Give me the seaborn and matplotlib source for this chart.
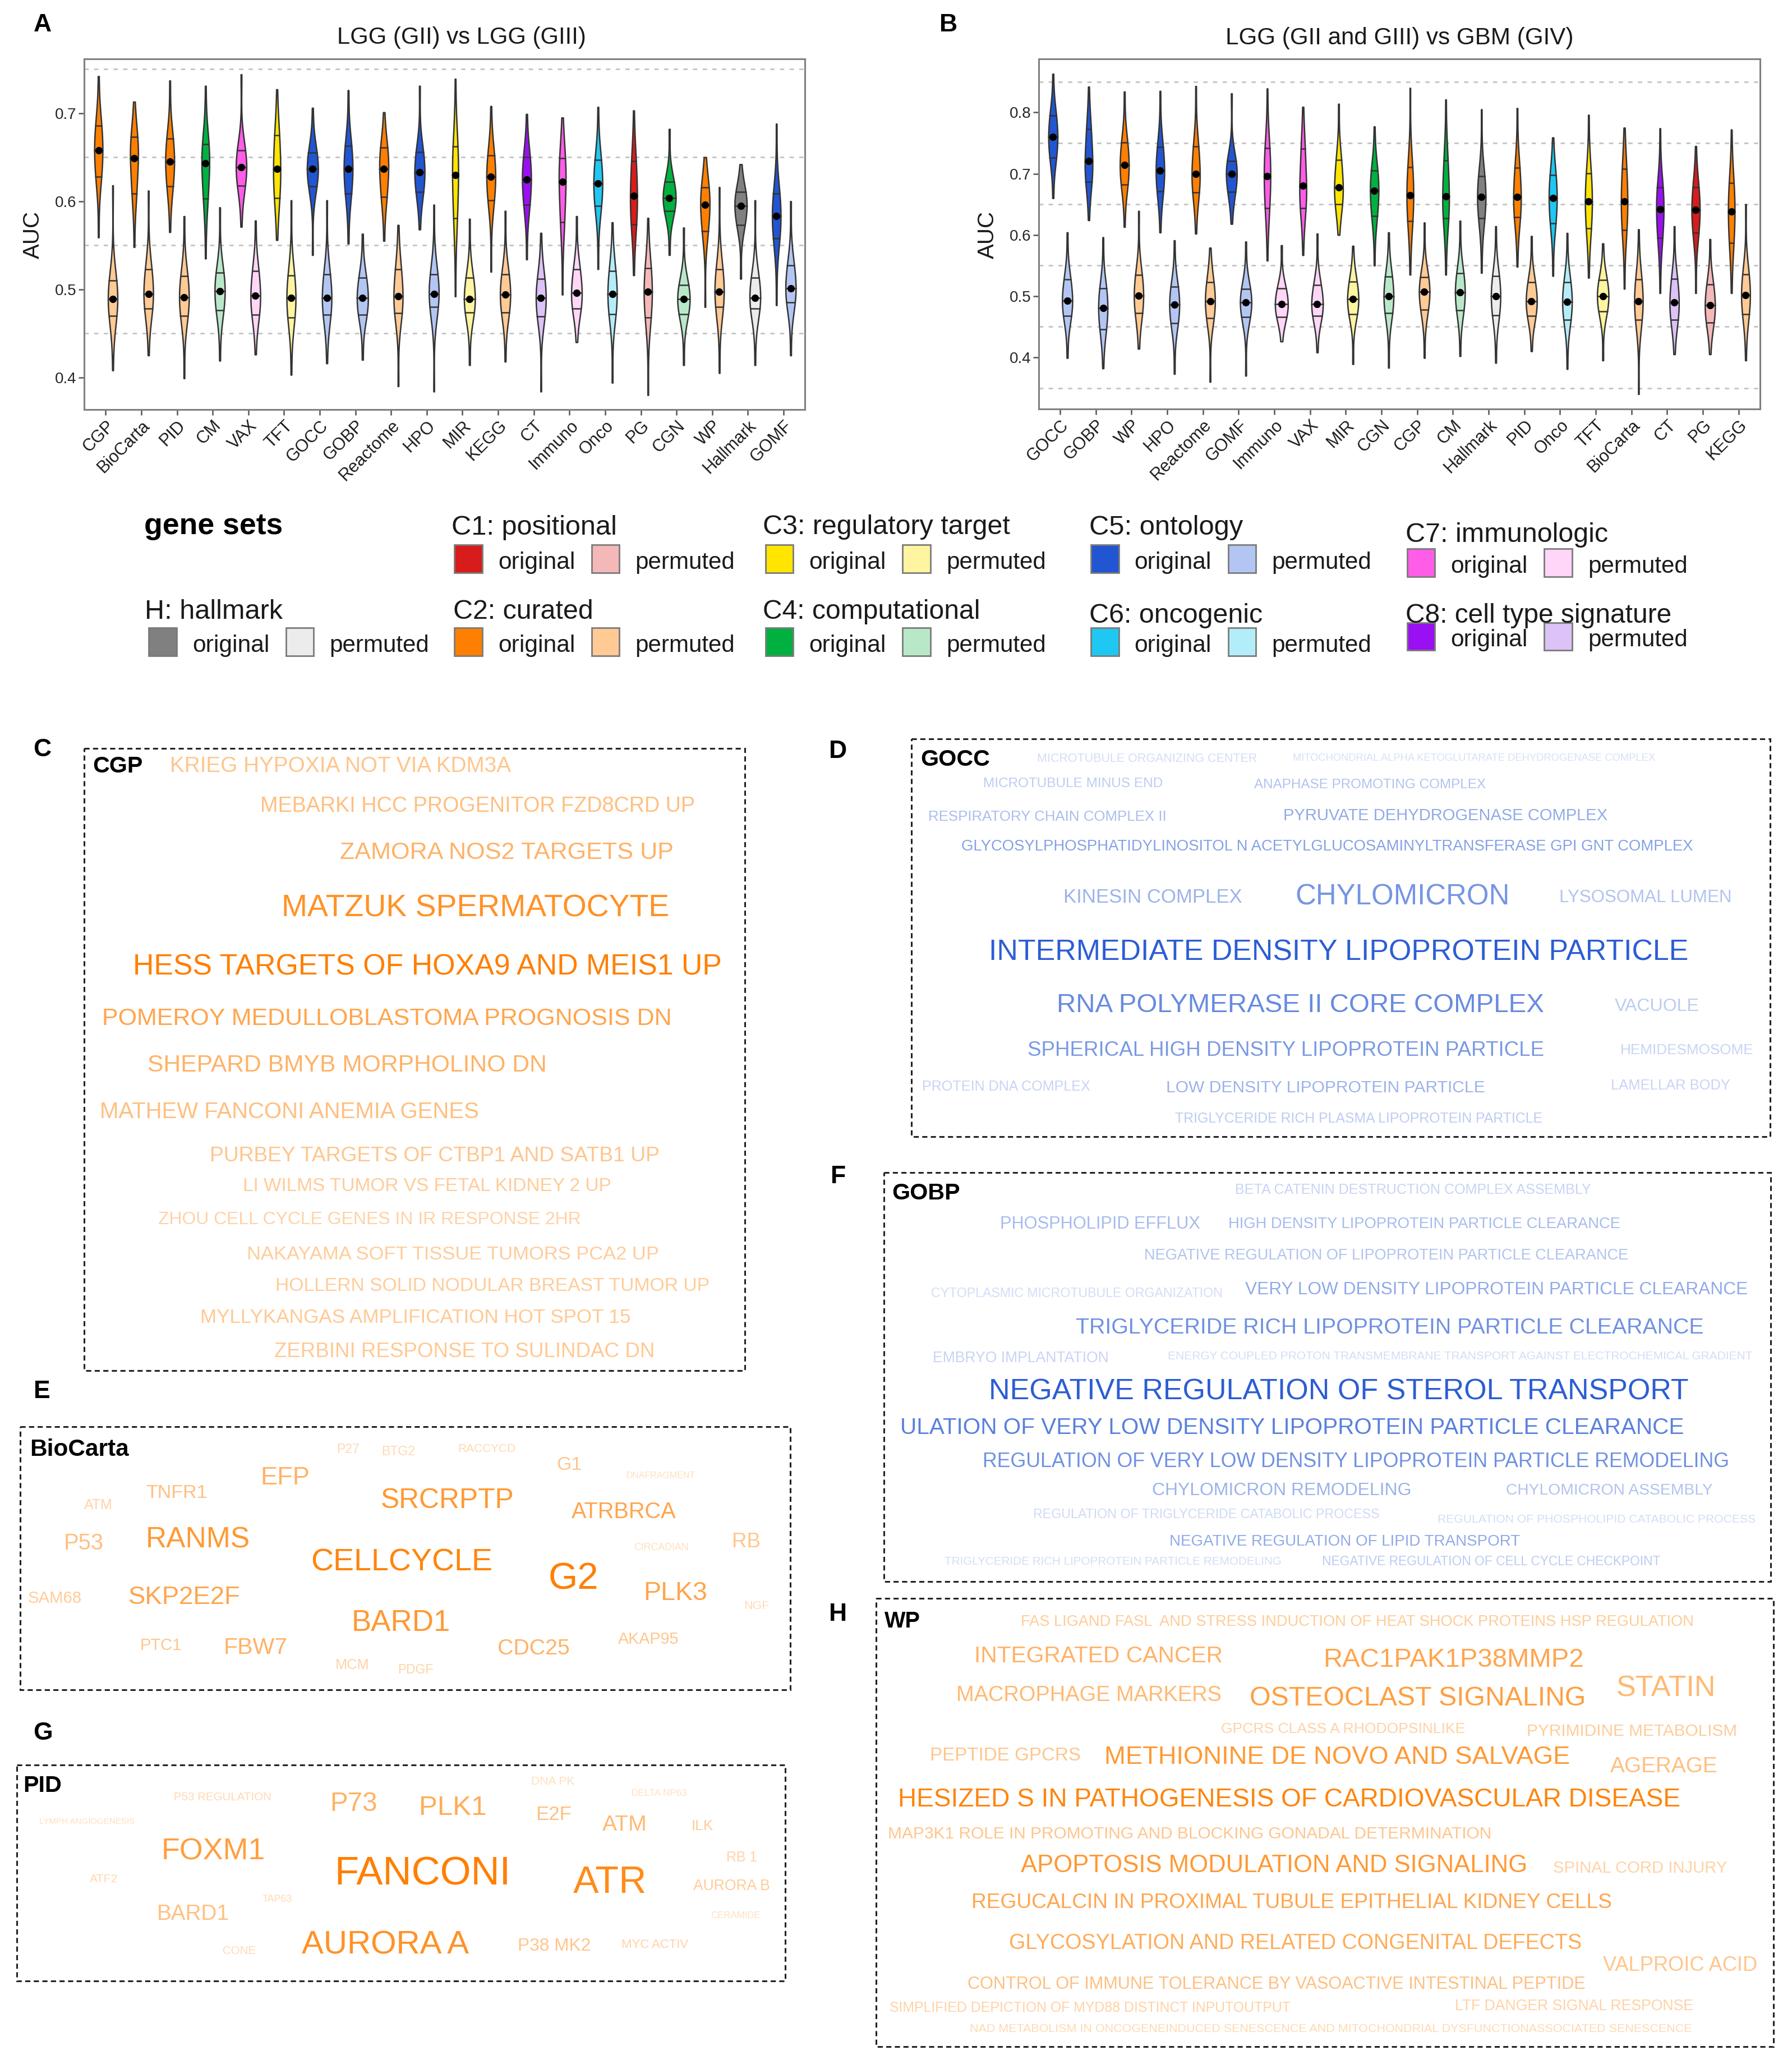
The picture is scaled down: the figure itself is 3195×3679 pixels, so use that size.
import numpy as np
import pandas as pd
import matplotlib
matplotlib.use('Agg')
import matplotlib.pyplot as plt
import seaborn as sns
from matplotlib.patches import Rectangle
from matplotlib.collections import PolyCollection
from matplotlib.colors import to_rgb

sns.set_theme(style='ticks')
plt.rcParams['font.family'] = ['Liberation Sans', 'DejaVu Sans']

# ---------------- violin data (min, q1, median, q3, max of AUC) ----------------
sets_a = ['CGP', 'BioCarta', 'PID', 'CM', 'VAX', 'TFT', 'GOCC', 'GOBP', 'Reactome', 'HPO',
          'MIR', 'KEGG', 'CT', 'Immuno', 'Onco', 'PG', 'CGN', 'WP', 'Hallmark', 'GOMF']
orig_a = [[0.559, 0.628, 0.658, 0.686, 0.742], [0.548, 0.609, 0.649, 0.673, 0.713],
          [0.565, 0.617, 0.645, 0.671, 0.737], [0.535, 0.603, 0.643, 0.665, 0.731],
          [0.571, 0.618, 0.639, 0.658, 0.744], [0.556, 0.604, 0.637, 0.675, 0.727],
          [0.539, 0.617, 0.637, 0.655, 0.706], [0.552, 0.609, 0.637, 0.663, 0.726],
          [0.555, 0.605, 0.637, 0.661, 0.701], [0.568, 0.611, 0.633, 0.656, 0.731],
          [0.492, 0.581, 0.630, 0.662, 0.739], [0.520, 0.601, 0.628, 0.652, 0.708],
          [0.534, 0.596, 0.625, 0.650, 0.699], [0.494, 0.576, 0.622, 0.649, 0.695],
          [0.523, 0.595, 0.620, 0.647, 0.707], [0.516, 0.574, 0.606, 0.646, 0.703],
          [0.539, 0.589, 0.604, 0.622, 0.682], [0.480, 0.566, 0.596, 0.616, 0.650],
          [0.512, 0.573, 0.595, 0.611, 0.642], [0.482, 0.558, 0.583, 0.609, 0.688]]
perm_a = [[0.408, 0.470, 0.489, 0.510, 0.618], [0.425, 0.478, 0.495, 0.523, 0.612],
          [0.399, 0.470, 0.491, 0.515, 0.583], [0.419, 0.476, 0.498, 0.519, 0.593],
          [0.426, 0.471, 0.493, 0.521, 0.578], [0.403, 0.468, 0.490, 0.516, 0.601],
          [0.416, 0.471, 0.490, 0.517, 0.601], [0.420, 0.471, 0.490, 0.513, 0.563],
          [0.390, 0.473, 0.492, 0.523, 0.573], [0.384, 0.480, 0.495, 0.517, 0.596],
          [0.414, 0.474, 0.489, 0.513, 0.580], [0.418, 0.474, 0.494, 0.517, 0.589],
          [0.384, 0.469, 0.490, 0.512, 0.564], [0.440, 0.478, 0.496, 0.523, 0.583],
          [0.394, 0.472, 0.495, 0.521, 0.576], [0.380, 0.468, 0.497, 0.524, 0.581],
          [0.414, 0.472, 0.489, 0.505, 0.570], [0.405, 0.480, 0.497, 0.523, 0.616],
          [0.414, 0.478, 0.490, 0.513, 0.601], [0.425, 0.485, 0.501, 0.527, 0.600]]

sets_b = ['GOCC', 'GOBP', 'WP', 'HPO', 'Reactome', 'GOMF', 'Immuno', 'VAX', 'MIR', 'CGN',
          'CGP', 'CM', 'Hallmark', 'PID', 'Onco', 'TFT', 'BioCarta', 'CT', 'PG', 'KEGG']
orig_b = [[0.660, 0.726, 0.760, 0.795, 0.863], [0.624, 0.687, 0.721, 0.773, 0.842],
          [0.613, 0.682, 0.714, 0.751, 0.834], [0.604, 0.671, 0.705, 0.744, 0.835],
          [0.602, 0.669, 0.700, 0.745, 0.843], [0.618, 0.670, 0.700, 0.721, 0.831],
          [0.558, 0.644, 0.696, 0.742, 0.839], [0.567, 0.644, 0.680, 0.741, 0.809],
          [0.600, 0.650, 0.678, 0.723, 0.814], [0.550, 0.631, 0.672, 0.705, 0.777],
          [0.535, 0.623, 0.665, 0.711, 0.840], [0.535, 0.627, 0.663, 0.722, 0.821],
          [0.538, 0.627, 0.662, 0.696, 0.805], [0.548, 0.629, 0.662, 0.710, 0.807],
          [0.533, 0.619, 0.660, 0.698, 0.759], [0.530, 0.611, 0.655, 0.701, 0.796],
          [0.512, 0.608, 0.655, 0.708, 0.775], [0.505, 0.595, 0.642, 0.678, 0.774],
          [0.505, 0.603, 0.641, 0.678, 0.745], [0.505, 0.587, 0.638, 0.685, 0.772]]
perm_b = [[0.399, 0.468, 0.493, 0.527, 0.604], [0.382, 0.446, 0.481, 0.513, 0.596],
          [0.414, 0.472, 0.501, 0.535, 0.639], [0.373, 0.456, 0.486, 0.515, 0.591],
          [0.360, 0.464, 0.492, 0.523, 0.579], [0.370, 0.466, 0.490, 0.512, 0.589],
          [0.426, 0.466, 0.487, 0.513, 0.583], [0.408, 0.468, 0.487, 0.518, 0.602],
          [0.389, 0.471, 0.495, 0.524, 0.582], [0.383, 0.472, 0.500, 0.532, 0.604],
          [0.399, 0.478, 0.507, 0.531, 0.620], [0.402, 0.477, 0.506, 0.537, 0.623],
          [0.391, 0.469, 0.500, 0.533, 0.614], [0.410, 0.468, 0.492, 0.523, 0.598],
          [0.381, 0.461, 0.491, 0.523, 0.603], [0.395, 0.475, 0.500, 0.526, 0.586],
          [0.340, 0.461, 0.492, 0.527, 0.609], [0.405, 0.461, 0.490, 0.528, 0.614],
          [0.405, 0.457, 0.485, 0.519, 0.593], [0.395, 0.471, 0.502, 0.536, 0.650]]

# how often each summary value enters the density estimate
summary_weights = [1, 5, 7, 5, 1]

collection = {'Hallmark': 'H', 'PG': 'C1', 'CGP': 'C2', 'BioCarta': 'C2', 'PID': 'C2',
              'Reactome': 'C2', 'KEGG': 'C2', 'WP': 'C2', 'TFT': 'C3', 'MIR': 'C3',
              'CGN': 'C4', 'CM': 'C4', 'GOCC': 'C5', 'GOBP': 'C5', 'GOMF': 'C5', 'HPO': 'C5',
              'Onco': 'C6', 'Immuno': 'C7', 'VAX': 'C7', 'CT': 'C8'}
orig_col = {'H': '#808080', 'C1': '#D81B1B', 'C2': '#FF7F00', 'C3': '#FFE500',
            'C4': '#00B140', 'C5': '#2155D2', 'C6': '#1EC8F2', 'C7': '#FF5CE8', 'C8': '#9A10F2'}
perm_col = {'H': '#ECECEC', 'C1': '#F4B8B8', 'C2': '#FFCA94', 'C3': '#FFF4A0',
            'C4': '#B9E8C9', 'C5': '#B3C6F3', 'C6': '#B4EDFA', 'C7': '#FFD6F8', 'C8': '#DCC2F6'}
legend_keys = ['H', 'C1', 'C2', 'C3', 'C4', 'C5', 'C6', 'C7', 'C8']
legend_titles = ['H: hallmark', 'C1: positional', 'C2: curated', 'C3: regulatory target',
                 'C4: computational', 'C5: ontology', 'C6: oncogenic', 'C7: immunologic',
                 'C8: cell type signature']

ticks_a = [0.4, 0.5, 0.6, 0.7]
ticks_b = [0.4, 0.5, 0.6, 0.7, 0.8]
guides_a = [0.45, 0.55, 0.65, 0.75]
guides_b = [0.35, 0.45, 0.55, 0.65, 0.75, 0.85]

# ---------------- word cloud data (term, relative score) ----------------
cgp_words = ['KRIEG HYPOXIA NOT VIA KDM3A', 'MEBARKI HCC PROGENITOR FZD8CRD UP', 'ZAMORA NOS2 TARGETS UP',
             'MATZUK SPERMATOCYTE', 'HESS TARGETS OF HOXA9 AND MEIS1 UP',
             'POMEROY MEDULLOBLASTOMA PROGNOSIS DN', 'SHEPARD BMYB MORPHOLINO DN',
             'MATHEW FANCONI ANEMIA GENES', 'PURBEY TARGETS OF CTBP1 AND SATB1 UP',
             'LI WILMS TUMOR VS FETAL KIDNEY 2 UP', 'ZHOU CELL CYCLE GENES IN IR RESPONSE 2HR',
             'NAKAYAMA SOFT TISSUE TUMORS PCA2 UP', 'HOLLERN SOLID NODULAR BREAST TUMOR UP',
             'MYLLYKANGAS AMPLIFICATION HOT SPOT 15', 'ZERBINI RESPONSE TO SULINDAC DN']
cgp_score = [0.45, 0.5, 0.6, 0.85, 1.0, 0.7, 0.6, 0.5, 0.45, 0.4, 0.35, 0.4, 0.4, 0.42, 0.42]

gocc_words = ['MICROTUBULE ORGANIZING CENTER', 'MITOCHONDRIAL ALPHA KETOGLUTARATE DEHYDROGENASE COMPLEX',
              'MICROTUBULE MINUS END', 'ANAPHASE PROMOTING COMPLEX', 'RESPIRATORY CHAIN COMPLEX II',
              'PYRUVATE DEHYDROGENASE COMPLEX',
              'GLYCOSYLPHOSPHATIDYLINOSITOL N ACETYLGLUCOSAMINYLTRANSFERASE GPI GNT COMPLEX',
              'KINESIN COMPLEX', 'CHYLOMICRON', 'LYSOSOMAL LUMEN',
              'INTERMEDIATE DENSITY LIPOPROTEIN PARTICLE', 'RNA POLYMERASE II CORE COMPLEX', 'VACUOLE',
              'SPHERICAL HIGH DENSITY LIPOPROTEIN PARTICLE', 'HEMIDESMOSOME', 'PROTEIN DNA COMPLEX',
              'LOW DENSITY LIPOPROTEIN PARTICLE', 'LAMELLAR BODY',
              'TRIGLYCERIDE RICH PLASMA LIPOPROTEIN PARTICLE']
gocc_score = [0.2, 0.18, 0.3, 0.35, 0.38, 0.5, 0.55, 0.45, 0.62, 0.35, 0.95, 0.68, 0.3, 0.6,
              0.25, 0.25, 0.45, 0.25, 0.3]

biocarta_words = ['P27', 'BTG2', 'RACCYCD', 'G1', 'DNAFRAGMENT', 'EFP', 'TNFR1', 'ATM', 'SRCRPTP',
                  'ATRBRCA', 'P53', 'RANMS', 'CIRCADIAN', 'RB', 'CELLCYCLE', 'G2', 'PLK3', 'SAM68',
                  'SKP2E2F', 'NGF', 'BARD1', 'AKAP95', 'PTC1', 'FBW7', 'CDC25', 'MCM', 'PDGF']
biocarta_score = [0.3, 0.3, 0.3, 0.45, 0.25, 0.6, 0.5, 0.35, 0.8, 0.7, 0.5, 0.8, 0.25, 0.45, 0.95,
                  1.0, 0.7, 0.4, 0.7, 0.3, 0.8, 0.45, 0.45, 0.6, 0.6, 0.35, 0.35]

gobp_words = ['BETA CATENIN DESTRUCTION COMPLEX ASSEMBLY', 'PHOSPHOLIPID EFFLUX',
              'HIGH DENSITY LIPOPROTEIN PARTICLE CLEARANCE',
              'NEGATIVE REGULATION OF LIPOPROTEIN PARTICLE CLEARANCE',
              'CYTOPLASMIC MICROTUBULE ORGANIZATION', 'VERY LOW DENSITY LIPOPROTEIN PARTICLE CLEARANCE',
              'TRIGLYCERIDE RICH LIPOPROTEIN PARTICLE CLEARANCE', 'EMBRYO IMPLANTATION',
              'ENERGY COUPLED PROTON TRANSMEMBRANE TRANSPORT AGAINST ELECTROCHEMICAL GRADIENT',
              'NEGATIVE REGULATION OF STEROL TRANSPORT',
              'ULATION OF VERY LOW DENSITY LIPOPROTEIN PARTICLE CLEARANCE',
              'REGULATION OF VERY LOW DENSITY LIPOPROTEIN PARTICLE REMODELING',
              'CHYLOMICRON REMODELING', 'CHYLOMICRON ASSEMBLY',
              'REGULATION OF TRIGLYCERIDE CATABOLIC PROCESS',
              'REGULATION OF PHOSPHOLIPID CATABOLIC PROCESS', 'NEGATIVE REGULATION OF LIPID TRANSPORT',
              'TRIGLYCERIDE RICH LIPOPROTEIN PARTICLE REMODELING',
              'NEGATIVE REGULATION OF CELL CYCLE CHECKPOINT']
gobp_score = [0.25, 0.4, 0.4, 0.35, 0.2, 0.5, 0.65, 0.25, 0.2, 0.95, 0.75, 0.65, 0.45, 0.35,
              0.22, 0.2, 0.5, 0.2, 0.3]

pid_words = ['DNA PK', 'P53 REGULATION', 'DELTA NP63', 'P73', 'PLK1', 'E2F', 'LYMPH ANGIOGENESIS',
             'ATM', 'ILK', 'FOXM1', 'RB 1', 'FANCONI', 'ATF2', 'ATR', 'AURORA B', 'TAP63', 'BARD1',
             'CERAMIDE', 'AURORA A', 'MYC ACTIV', 'P38 MK2', 'CONE']
pid_score = [0.25, 0.3, 0.25, 0.6, 0.65, 0.5, 0.25, 0.55, 0.4, 0.75, 0.35, 1.0, 0.3, 0.9, 0.4,
             0.3, 0.5, 0.25, 0.85, 0.35, 0.45, 0.3]

wp_words = ['FAS LIGAND FASL  AND STRESS INDUCTION OF HEAT SHOCK PROTEINS HSP REGULATION',
            'INTEGRATED CANCER', 'RAC1PAK1P38MMP2', 'STATIN', 'MACROPHAGE MARKERS',
            'OSTEOCLAST SIGNALING', 'GPCRS CLASS A RHODOPSINLIKE', 'PYRIMIDINE METABOLISM',
            'PEPTIDE GPCRS', 'METHIONINE DE NOVO AND SALVAGE', 'AGERAGE',
            'HESIZED S IN PATHOGENESIS OF CARDIOVASCULAR DISEASE',
            'MAP3K1 ROLE IN PROMOTING AND BLOCKING GONADAL DETERMINATION',
            'APOPTOSIS MODULATION AND SIGNALING', 'SPINAL CORD INJURY',
            'REGUCALCIN IN PROXIMAL TUBULE EPITHELIAL KIDNEY CELLS',
            'GLYCOSYLATION AND RELATED CONGENITAL DEFECTS', 'VALPROIC ACID',
            'CONTROL OF IMMUNE TOLERANCE BY VASOACTIVE INTESTINAL PEPTIDE',
            'SIMPLIFIED DEPICTION OF MYD88 DISTINCT INPUTOUTPUT', 'LTF DANGER SIGNAL RESPONSE',
            'NAD METABOLISM IN ONCOGENEINDUCED SENESCENCE AND MITOCHONDRIAL DYSFUNCTIONASSOCIATED SENESCENCE']
wp_score = [0.4, 0.6, 0.7, 0.55, 0.55, 0.75, 0.35, 0.4, 0.45, 0.8, 0.5, 0.95, 0.45, 0.8, 0.35,
            0.7, 0.65, 0.45, 0.5, 0.35, 0.35, 0.3]

# ---------------- layout (reference grid 1360 x 1566) ----------------
W, H = 1360, 1566
fig = plt.figure(figsize=(31.95, 36.79), dpi=100)
PX = fig.get_figwidth() * fig.dpi / W


def fig_box(l, t, r, b):
    return [l / W, 1 - b / H, (r - l) / W, (b - t) / H]


def long_table(sets, orig, perm):
    rows = []
    for s, o, p in zip(sets, orig, perm):
        for kind, q in (('original', o), ('permuted', p)):
            for v, w in zip(q, summary_weights):
                rows += [(s, kind, v)] * w
    return pd.DataFrame(rows, columns=['set', 'type', 'AUC'])


def violin_panel(ax, sets, orig, perm, ylim, ticks, guides):
    df = long_table(sets, orig, perm)
    sns.violinplot(data=df, x='set', y='AUC', hue='type', order=sets,
                   hue_order=['original', 'permuted'], palette=['#888888', '#eeeeee'],
                   dodge=True, width=0.8, gap=0.1, cut=0, bw_adjust=1.2,
                   density_norm='area', common_norm=True, inner='quart',
                   linecolor='#333333', linewidth=1.8, legend=False, ax=ax)
    for coll in ax.collections:
        if isinstance(coll, PolyCollection):
            xs = coll.get_paths()[0].vertices[:, 0]
            c = 0.5 * (xs.min() + xs.max())
            i = int(round(c))
            key = collection[sets[i]]
            coll.set_facecolor(orig_col[key] if c < i else perm_col[key])
    # quartile lines solid, as in the reference
    for ln in ax.lines:
        ln.set_linestyle('-')
    for g in guides:
        ax.axhline(g, color='#C4C4C4', lw=2, ls=(0, (2.8, 3.4)), zorder=0)
    med = df.groupby(['set', 'type'], as_index=False)['AUC'].median()
    sns.stripplot(data=med, x='set', y='AUC', hue='type', order=sets,
                  hue_order=['original', 'permuted'], palette=['black', 'black'],
                  dodge=True, jitter=False, size=9.5, linewidth=0, legend=False,
                  zorder=4, ax=ax)
    ax.set_xlim(-0.6, len(sets) - 0.4)
    ax.set_ylim(*ylim)
    ax.set_xlabel('')
    ax.set_ylabel('')
    ax.set_yticks(ticks)
    ax.set_yticklabels([f'{t:.1f}' for t in ticks])
    ax.tick_params(axis='x', labelsize=22, length=7, width=1.8, color='#555555',
                   labelcolor='#1A1A1A', pad=3)
    ax.tick_params(axis='y', labelsize=20, length=7, width=1.8, color='#555555',
                   labelcolor='#262626', pad=3)
    for lab in ax.get_xticklabels():
        lab.set_rotation(45)
        lab.set_ha('right')
        lab.set_va('top')
        lab.set_rotation_mode('anchor')
    for sp in ax.spines.values():
        sp.set_visible(True)
        sp.set_color('#808080')
        sp.set_linewidth(2.2)


ax_a = fig.add_axes(fig_box(63.9, 44.6, 610.9, 310.7))
violin_panel(ax_a, sets_a, orig_a, perm_a, (0.3636, 0.7618), ticks_a, guides_a)
ax_b = fig.add_axes(fig_box(788.3, 44.6, 1335.7, 310.3))
violin_panel(ax_b, sets_b, orig_b, perm_b, (0.3157, 0.8877), ticks_b, guides_b)

# overlay for all free text, legend and word clouds (coordinates in the 1360 x 1566 grid)
lay = fig.add_axes([0, 0, 1, 1])
lay.set_xlim(0, W)
lay.set_ylim(H, 0)
lay.axis('off')
renderer = fig.canvas.get_renderer()


def fit_text(s, x0, x1, yc, color='#1A1A1A', bold=False):
    t = lay.text(x0, yc, s, fontsize=10, color=color,
                 fontweight='bold' if bold else 'normal', ha='left', va='baseline')
    w = t.get_window_extent(renderer).width
    fs = 10 * (x1 - x0) * PX / w
    t.set_fontsize(fs)
    t.set_y(yc + 0.716 * fs * fig.dpi / 72 / PX / 2)
    return t


def shade(base, a):
    r, g, b = to_rgb(base)
    return (1 - a * (1 - r), 1 - a * (1 - g), 1 - a * (1 - b))


# panel letters
for letter, x, y in [('A', 32.5, 19), ('B', 720, 19), ('C', 32, 569), ('D', 636, 570),
                     ('E', 32, 1056), ('F', 636, 893), ('G', 32.5, 1315), ('H', 636, 1225)]:
    lay.text(x, y, letter, fontsize=32, fontweight='bold', ha='center', va='center', color='black')

fit_text('LGG (GII) vs LGG (GIII)', 256, 446, 27)
fit_text('LGG (GII and GIII) vs GBM (GIV)', 930, 1195, 27)
lay.text(25, 178, 'AUC', rotation=90, fontsize=29, ha='center', va='center', color='#1A1A1A')
lay.text(749.5, 178, 'AUC', rotation=90, fontsize=29, ha='center', va='center', color='#1A1A1A')

# legend
fit_text('gene sets', 109.4, 215, 397, color='black', bold=True)
legend_pos = [(110, 215, 462, 487, 113), (342.6, 468.3, 398, 424, 345), (344, 451, 462, 487, 345),
              (579, 767.6, 398, 424, 581), (579, 744, 462, 487, 581), (826.5, 943.6, 398, 424, 828),
              (826.5, 958.4, 465, 487, 828), (1066.8, 1221, 404, 427, 1068),
              (1066.8, 1268.9, 465, 483, 1068)]
for key, title, (t0, t1, ty, ky, kx) in zip(legend_keys, legend_titles, legend_pos):
    fit_text(title, t0, t1, ty)
    for dx, col, lab, tw in ((0, orig_col[key], 'original', 59), (104, perm_col[key], 'permuted', 76)):
        lay.add_patch(Rectangle((kx + dx, ky - 10.5), 21, 21, facecolor=col,
                                edgecolor='#7A7A7A', lw=2))
        fit_text(lab, kx + dx + 33, kx + dx + 33 + tw, ky + 1)

# word clouds: box (left, top, right, bottom), title span, term spans (left, right, y) as box fractions
cgp_box = (63.8, 567.7, 565.2, 1040)
cgp_spans = [(0.130, 0.646, 0.026), (0.267, 0.925, 0.090), (0.387, 0.892, 0.164), (0.299, 0.887, 0.252),
             (0.074, 0.964, 0.347), (0.027, 0.889, 0.431), (0.096, 0.699, 0.506), (0.024, 0.599, 0.581),
             (0.190, 0.872, 0.652), (0.240, 0.799, 0.701), (0.112, 0.752, 0.754), (0.246, 0.870, 0.810),
             (0.290, 0.948, 0.861), (0.176, 0.828, 0.912), (0.288, 0.864, 0.966)]
gocc_box = (691.9, 560.7, 1343.6, 862.4)
gocc_spans = [(0.146, 0.403, 0.046), (0.444, 0.866, 0.046), (0.083, 0.293, 0.109), (0.399, 0.669, 0.112),
              (0.019, 0.296, 0.193), (0.433, 0.810, 0.189), (0.058, 0.911, 0.267), (0.177, 0.385, 0.394),
              (0.447, 0.696, 0.391), (0.754, 0.955, 0.394), (0.090, 0.904, 0.530), (0.169, 0.736, 0.663),
              (0.819, 0.918, 0.667), (0.135, 0.736, 0.778), (0.825, 0.980, 0.780), (0.012, 0.208, 0.872),
              (0.296, 0.668, 0.874), (0.814, 0.953, 0.868), (0.307, 0.736, 0.952)]
biocarta_box = (15.5, 1082.5, 599.8, 1282)
biocarta_spans = [(0.411, 0.441, 0.082), (0.469, 0.513, 0.090), (0.568, 0.643, 0.079), (0.696, 0.729, 0.139),
                  (0.787, 0.877, 0.184), (0.312, 0.376, 0.185), (0.163, 0.243, 0.245), (0.083, 0.120, 0.294),
                  (0.468, 0.641, 0.272), (0.716, 0.852, 0.318), (0.056, 0.108, 0.437), (0.163, 0.298, 0.420),
                  (0.797, 0.868, 0.456), (0.924, 0.961, 0.430), (0.377, 0.613, 0.504), (0.686, 0.752, 0.567),
                  (0.809, 0.892, 0.623), (0.010, 0.080, 0.647), (0.140, 0.286, 0.639), (0.940, 0.973, 0.676),
                  (0.430, 0.558, 0.736), (0.776, 0.855, 0.804), (0.155, 0.209, 0.827), (0.264, 0.347, 0.833),
                  (0.620, 0.714, 0.837), (0.409, 0.453, 0.902), (0.490, 0.536, 0.922)]
gobp_box = (671, 889.5, 1344, 1200)
gobp_spans = [(0.396, 0.798, 0.040), (0.131, 0.357, 0.123), (0.388, 0.831, 0.123), (0.293, 0.839, 0.199),
              (0.053, 0.382, 0.294), (0.407, 0.973, 0.282), (0.216, 0.924, 0.375), (0.055, 0.254, 0.451),
              (0.320, 0.979, 0.447), (0.118, 0.907, 0.529), (0.018, 0.902, 0.620), (0.111, 0.954, 0.703),
              (0.302, 0.594, 0.773), (0.701, 0.934, 0.773), (0.168, 0.559, 0.833), (0.624, 0.983, 0.846),
              (0.322, 0.717, 0.898), (0.068, 0.449, 0.949), (0.494, 0.876, 0.949)]
pid_box = (12.8, 1339, 596, 1503)
pid_spans = [(0.669, 0.725, 0.072), (0.204, 0.331, 0.144), (0.800, 0.872, 0.128), (0.407, 0.469, 0.169),
             (0.523, 0.611, 0.185), (0.675, 0.722, 0.222), (0.029, 0.153, 0.259), (0.762, 0.820, 0.267),
             (0.878, 0.907, 0.276), (0.188, 0.323, 0.389), (0.923, 0.963, 0.424), (0.413, 0.642, 0.489),
             (0.095, 0.132, 0.523), (0.724, 0.820, 0.528), (0.880, 0.980, 0.556), (0.319, 0.358, 0.618),
             (0.182, 0.276, 0.681), (0.903, 0.968, 0.694), (0.371, 0.589, 0.819), (0.787, 0.874, 0.827),
             (0.652, 0.747, 0.831), (0.268, 0.311, 0.856)]
wp_box = (665, 1212.7, 1346, 1552.6)
wp_spans = [(0.161, 0.911, 0.049), (0.109, 0.386, 0.124), (0.498, 0.788, 0.131), (0.825, 0.936, 0.195),
            (0.089, 0.384, 0.212), (0.416, 0.791, 0.217), (0.384, 0.656, 0.289), (0.725, 0.959, 0.294),
            (0.060, 0.228, 0.347), (0.254, 0.772, 0.349), (0.818, 0.938, 0.371), (0.024, 0.895, 0.444),
            (0.013, 0.685, 0.522), (0.161, 0.725, 0.592), (0.754, 0.948, 0.599), (0.106, 0.820, 0.675),
            (0.148, 0.787, 0.766), (0.810, 0.982, 0.815), (0.102, 0.791, 0.858), (0.015, 0.464, 0.912),
            (0.645, 0.911, 0.907), (0.104, 0.908, 0.958)]

orange = '#FF7F00'
blue = '#2155D2'
clouds = [('CGP', (0.013, 0.089, 0.026), cgp_box, cgp_words, cgp_score, cgp_spans, orange),
          ('GOCC', (0.010, 0.091, 0.046), gocc_box, gocc_words, gocc_score, gocc_spans, blue),
          ('BioCarta', (0.012, 0.140, 0.078), biocarta_box, biocarta_words, biocarta_score, biocarta_spans, orange),
          ('GOBP', (0.009, 0.086, 0.046), gobp_box, gobp_words, gobp_score, gobp_spans, blue),
          ('PID', (0.008, 0.058, 0.088), pid_box, pid_words, pid_score, pid_spans, orange),
          ('WP', (0.009, 0.049, 0.047), wp_box, wp_words, wp_score, wp_spans, orange)]

for name, tspan, (l, t, r, b), words, score, spans, base in clouds:
    lay.add_patch(Rectangle((l, t), r - l, b - t, fill=False, edgecolor='#222222',
                            lw=2.2, ls=(0, (3, 2))))
    fit_text(name, l + tspan[0] * (r - l), l + tspan[1] * (r - l), t + tspan[2] * (b - t),
             color='black', bold=True)
    for word, sc, (f0, f1, fy) in zip(words, score, spans):
        fit_text(word, l + f0 * (r - l), l + f1 * (r - l), t + fy * (b - t), color=shade(base, sc))

fig.savefig('out.png', dpi=100)
